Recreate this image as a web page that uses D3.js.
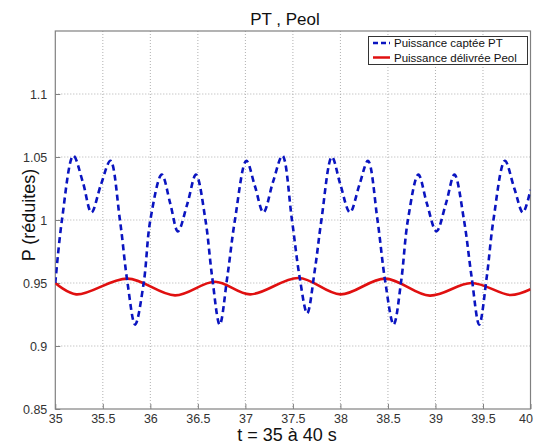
<!DOCTYPE html>
<html><head><meta charset="utf-8">
<script src="https://cdn.jsdelivr.net/npm/d3@7"></script>
<style>body{margin:0;background:#fff;} svg{display:block;font-family:"Liberation Sans",Arial,sans-serif;}</style>
</head><body>
<svg id="c" width="536" height="445"></svg>
<script>
const xTicks = [35, 35.5, 36, 36.5, 37, 37.5, 38, 38.5, 39, 39.5, 40];
const yTicks = [0.85, 0.9, 0.95, 1, 1.05, 1.1];
const seriesNames = ["Puissance captée PT", "Puissance délivrée Peol"];
const ptT = [35.00,35.07,35.19,35.29,35.38,35.48,35.58,35.68,35.76,35.84,35.93,36.00,36.12,36.21,36.29,36.39,36.48,36.58,36.65,36.73,36.81,36.89,37.01,37.10,37.19,37.29,37.39,37.49,37.57,37.65,37.73,37.80,37.91,38.00,38.10,38.20,38.29,38.39,38.47,38.56,38.64,38.71,38.82,38.91,39.01,39.11,39.20,39.30,39.38,39.46,39.54,39.61,39.73,39.83,39.92,40.00];
const ptV = [0.950,1.000,1.051,1.030,1.006,1.028,1.047,1.000,0.950,0.917,0.950,1.000,1.036,1.013,0.991,1.013,1.036,1.000,0.955,0.917,0.955,1.000,1.047,1.027,1.006,1.030,1.051,1.000,0.955,0.926,0.960,1.000,1.050,1.028,1.006,1.028,1.047,1.000,0.952,0.917,0.952,1.000,1.036,1.013,0.991,1.013,1.036,1.000,0.955,0.917,0.955,1.000,1.047,1.025,1.006,1.024];
const peolT = [35.00,35.22,35.76,36.26,36.68,37.05,37.56,38.00,38.47,38.94,39.38,39.79,40.00];
const peolV = [0.950,0.941,0.9535,0.9402,0.951,0.941,0.954,0.941,0.9535,0.940,0.950,0.9405,0.945];

const svg = d3.select("#c");
const L = 55.3, R = 530.5, T = 31, B = 409;
const x = d3.scaleLinear().domain([35, 40]).range([L, R]);
const y = d3.scaleLinear().domain([0.85, 1.15]).range([B, T]);

// grid
const g = svg.append("g");
g.selectAll(".gx").data(xTicks.slice(1, -1)).enter().append("line")
  .attr("x1", d => x(d)).attr("x2", d => x(d)).attr("y1", T).attr("y2", B)
  .attr("stroke", "#b0b0b0").attr("stroke-width", 1).attr("stroke-dasharray", "1,2");
g.selectAll(".gy").data(yTicks.slice(1)).enter().append("line")
  .attr("x1", L).attr("x2", R).attr("y1", d => y(d)).attr("y2", d => y(d))
  .attr("stroke", "#b0b0b0").attr("stroke-width", 1).attr("stroke-dasharray", "1,2");

// axes
const xAxis = d3.axisBottom(x).tickValues(xTicks).tickSize(-5).tickPadding(5).tickFormat(d3.format("~g"));
const yAxis = d3.axisLeft(y).tickValues(yTicks).tickSize(-5).tickPadding(8).tickFormat(d3.format("~g"));
const ax = svg.append("g").attr("transform", `translate(0,${B})`).call(xAxis);
const ay = svg.append("g").attr("transform", `translate(${L},0)`).call(yAxis);
[ax, ay].forEach(a => {
  a.select(".domain").remove();
  a.selectAll("line").attr("stroke", "#808080");
  a.selectAll("text").attr("fill", "#333").style("font-size", "12.5px");
});
ax.selectAll("text").attr("dy", "0.71em").attr("dx", d => d === 40 ? -5 : 0);
// box
svg.append("rect").attr("x", L).attr("y", T).attr("width", R - L).attr("height", B - T)
  .attr("fill", "none").attr("stroke", "#808080").attr("stroke-width", 1.2);

// lines
const curve = d3.curveCatmullRom.alpha(0.5);
const line = d3.line().x(d => x(d[0])).y(d => y(d[1])).curve(curve);
const clip = svg.append("clipPath").attr("id", "clp").append("rect")
  .attr("x", L).attr("y", T).attr("width", R - L).attr("height", B - T);
svg.append("path").datum(peolT.map((t, i) => [t, peolV[i]]))
  .attr("d", line).attr("fill", "none").attr("stroke", "#e01010").attr("stroke-width", 2.6)
  .attr("clip-path", "url(#clp)");
svg.append("path").datum(ptT.map((t, i) => [t, ptV[i]]))
  .attr("d", line).attr("fill", "none").attr("stroke", "#0a14c0").attr("stroke-width", 2.6)
  .attr("stroke-dasharray", "6,4").attr("clip-path", "url(#clp)");

// legend
const lg = svg.append("g");
lg.append("rect").attr("x", 368.5).attr("y", 36.5).attr("width", 159).attr("height", 28)
  .attr("fill", "#fff").attr("stroke", "#333").attr("stroke-width", 1);
const lcol = ["#0a14c0", "#e01010"];
const ldash = ["5,3", null];
seriesNames.forEach((n, i) => {
  const yy = 43 + i * 14.5;
  lg.append("line").attr("x1", 373).attr("x2", 390).attr("y1", yy).attr("y2", yy)
    .attr("stroke", lcol[i]).attr("stroke-width", 2.5).attr("stroke-dasharray", ldash[i]);
  lg.append("text").attr("x", 394).attr("y", yy + 4).text(n)
    .style("font-size", "11.5px").attr("fill", "#111");
});

// titles
svg.append("text").attr("x", 285).attr("y", 25).attr("text-anchor", "middle")
  .style("font-size", "17px").attr("fill", "#111").text("PT , Peol");
svg.append("text").attr("x", 287).attr("y", 441).attr("text-anchor", "middle")
  .style("font-size", "18px").attr("fill", "#111").text("t = 35 à 40 s");
svg.append("text").attr("transform", "translate(35,215) rotate(-90)").attr("text-anchor", "middle")
  .style("font-size", "18px").attr("fill", "#111").text("P (réduites)");
</script>
</body></html>
